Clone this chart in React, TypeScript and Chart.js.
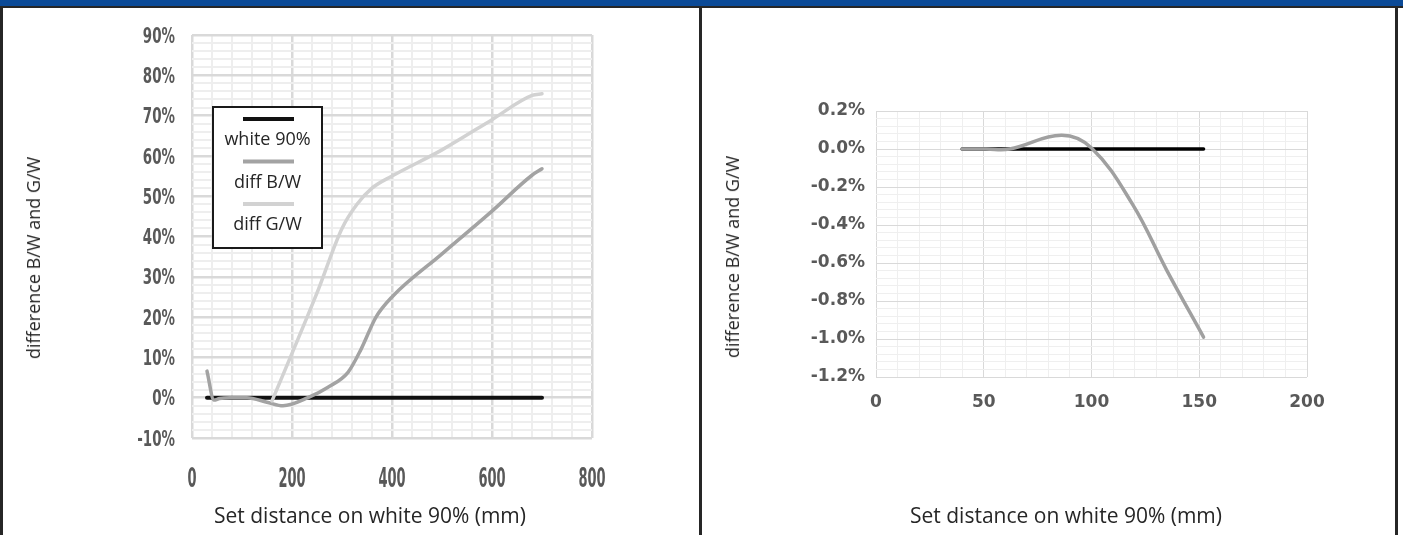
import React, { useEffect, useRef } from "react";
import { Chart, registerables } from "chart.js";

Chart.register(...registerables);

// ---------------- data ----------------
const seriesNames = ["white 90%", "diff B/W", "diff G/W"];
const xTitle = "Set distance on white 90% (mm)";
const yTitle = "difference B/W and G/W";

// left panel (values in %)
const leftWhiteX = [30, 700];
const leftWhiteY = [0, 0];
const leftBWX = [30, 44, 55, 75, 110, 152, 182, 232, 272, 312, 338, 368, 400, 500, 600, 680, 700];
const leftBWY = [6.6, -0.6, -0.2, 0, 0, -1.2, -2.0, 0, 2.6, 6.3, 12, 20, 25, 35.7, 46.3, 55.2, 56.8];
const leftGWX = [160, 200, 250, 300, 330, 360, 400, 500, 600, 680, 700];
const leftGWY = [-0.8, 11, 26, 42, 48, 52, 55, 61.5, 69, 75, 75.4];
const leftXTicks = [0, 200, 400, 600, 800];
const leftYTicks = [-10, 0, 10, 20, 30, 40, 50, 60, 70, 80, 90];

// right panel (values in %)
const rightWhiteX = [40, 152];
const rightWhiteY = [0, 0];
const rightBWX = [40, 51, 62, 86, 100, 119, 135, 152];
const rightBWY = [0, 0, 0, 0.072, 0.005, -0.29, -0.64, -0.99];
const rightXTicks = [0, 50, 100, 150, 200];
const rightYTicks = [-1.2, -1.0, -0.8, -0.6, -0.4, -0.2, 0.0, 0.2];

// ---------------- helpers ----------------
const FONT_TEXT = "'Open Sans', 'Noto Sans', sans-serif";
const FONT_TICK = "'DejaVu Sans', sans-serif";
const TICK_COLOR = "#595959";
const TEXT_COLOR = "#262626";

const pts = (xs: number[], ys: number[]) => xs.map((x, i) => ({ x, y: ys[i] }));
const isMajor = (v: number, majors: number[]) => majors.some((m) => Math.abs(m - v) < 1e-6);

// vertical legend: line sample above each label, inside a framed box
const stackedLegend = {
  id: "stackedLegend",
  afterDraw(chart: any, _args: any, opts: any) {
    if (!opts || !opts.display) return;
    const { ctx, chartArea } = chart;
    const bx = chartArea.left + opts.offsetX;
    const by = chartArea.top + opts.offsetY;
    ctx.save();
    ctx.fillStyle = "#ffffff";
    ctx.fillRect(bx, by, opts.width, opts.height);
    ctx.strokeStyle = "#1a1a1a";
    ctx.lineWidth = 2;
    ctx.strokeRect(bx, by, opts.width, opts.height);
    const cx = bx + opts.width / 2;
    chart.data.datasets.forEach((ds: any, i: number) => {
      const ly = by + opts.firstLine + i * opts.gap;
      ctx.strokeStyle = ds.borderColor;
      ctx.lineWidth = 4;
      ctx.lineCap = "butt";
      ctx.beginPath();
      ctx.moveTo(cx - opts.sample / 2 + 1, ly);
      ctx.lineTo(cx + opts.sample / 2 + 1, ly);
      ctx.stroke();
      ctx.fillStyle = TEXT_COLOR;
      ctx.font = `18px ${FONT_TEXT}`;
      ctx.textAlign = "center";
      ctx.textBaseline = "middle";
      ctx.fillText(ds.label, cx, ly + opts.textOffset);
    });
    ctx.restore();
  },
};

// draws the scale's own tick labels with a horizontally condensed face
const condensedTicks = {
  id: "condensedTicks",
  afterDraw(chart: any, _args: any, opts: any) {
    if (!opts || !opts.display) return;
    const { ctx, chartArea } = chart;
    const drawScale = (scale: any, cfg: any) => {
      ctx.save();
      ctx.fillStyle = TICK_COLOR;
      ctx.font = `bold ${cfg.size}px ${FONT_TICK}`;
      ctx.textBaseline = "alphabetic";
      scale.ticks.forEach((t: any) => {
        const label = t.label;
        if (!label) return;
        const p = scale.getPixelForValue(t.value);
        let x: number;
        let y: number;
        if (scale.isHorizontal()) {
          x = p;
          y = chartArea.bottom + cfg.offset;
          ctx.textAlign = "center";
        } else {
          x = chartArea.left - cfg.offset;
          y = p;
          ctx.textAlign = "right";
        }
        ctx.save();
        ctx.translate(x, y + cfg.size * 0.365);
        ctx.scale(cfg.stretch, 1);
        ctx.fillText(String(label), 0, 0);
        ctx.restore();
      });
      ctx.restore();
    };
    drawScale(chart.scales.x, opts.x);
    drawScale(chart.scales.y, opts.y);
  },
};

function gridOpts(majors: number[], majorColor: string, minorColor: string, majorW: number, minorW: number) {
  return {
    drawTicks: false,
    color: (c: any) => (c.tick && isMajor(c.tick.value, majors) ? majorColor : minorColor),
    lineWidth: (c: any) => (c.tick && isMajor(c.tick.value, majors) ? majorW : minorW),
  };
}

function LeftChart() {
  const ref = useRef<HTMLCanvasElement>(null);
  useEffect(() => {
    const chart = new Chart(ref.current as HTMLCanvasElement, {
      type: "line",
      data: {
        datasets: [
          { label: seriesNames[0], data: pts(leftWhiteX, leftWhiteY), borderColor: "#111111", borderWidth: 4, order: 3 },
          { label: seriesNames[1], data: pts(leftBWX, leftBWY), borderColor: "#a3a3a3", borderWidth: 3.5, order: 2 },
          { label: seriesNames[2], data: pts(leftGWX, leftGWY), borderColor: "#d2d2d2", borderWidth: 3.5, order: 1 },
        ],
      },
      options: {
        animation: false,
        responsive: false,
        devicePixelRatio: 1,
        layout: { padding: { left: 0, top: 27, right: 107, bottom: 0 } },
        elements: {
          point: { radius: 0 },
          line: { cubicInterpolationMode: "monotone", borderCapStyle: "round", borderJoinStyle: "round" },
        },
        plugins: {
          legend: { display: false },
          tooltip: { enabled: false },
          stackedLegend: {
            display: true, offsetX: 21, offsetY: 72, width: 109, height: 141,
            firstLine: 12, gap: 42.5, textOffset: 21, sample: 51,
          },
          condensedTicks: {
            display: true,
            x: { size: 26, stretch: 0.5, offset: 40 },
            y: { size: 21, stretch: 0.64, offset: 17 },
          },
        } as any,
        scales: {
          x: {
            type: "linear", min: 0, max: 800,
            afterFit: (s: any) => { s.height = 97; },
            border: { display: false },
            grid: gridOpts(leftXTicks, "#d9d9d9", "#eeeeee", 2.5, 2),
            ticks: {
              stepSize: 40, autoSkip: false, maxRotation: 0, padding: 28, color: "rgba(0,0,0,0)",
              font: { family: FONT_TICK, size: 14, weight: "bold" },
              callback: (v: any) => (isMajor(Number(v), leftXTicks) ? String(Math.round(Number(v))) : ""),
            },
          },
          y: {
            type: "linear", min: -10, max: 90,
            afterFit: (s: any) => { s.width = 189; },
            border: { display: false },
            grid: gridOpts(leftYTicks, "#d9d9d9", "#eeeeee", 2.5, 2),
            ticks: {
              stepSize: 2, autoSkip: false, padding: 17, color: "rgba(0,0,0,0)",
              font: { family: FONT_TICK, size: 14, weight: "bold" },
              callback: (v: any) => (isMajor(Number(v), leftYTicks) ? `${Math.round(Number(v))}%` : ""),
            },
          },
        },
      } as any,
      plugins: [stackedLegend as any, condensedTicks as any],
    });
    return () => chart.destroy();
  }, []);
  return <canvas ref={ref} width={696} height={527} style={{ display: "block" }} />;
}

function RightChart() {
  const ref = useRef<HTMLCanvasElement>(null);
  useEffect(() => {
    const chart = new Chart(ref.current as HTMLCanvasElement, {
      type: "line",
      data: {
        datasets: [
          { label: seriesNames[0], data: pts(rightWhiteX, rightWhiteY), borderColor: "#000000", borderWidth: 3.5, order: 2 },
          { label: seriesNames[1], data: pts(rightBWX, rightBWY), borderColor: "#a0a0a0", borderWidth: 3.5, order: 1 },
        ],
      },
      options: {
        animation: false,
        responsive: false,
        devicePixelRatio: 1,
        layout: { padding: { left: 0, top: 103, right: 88, bottom: 0 } },
        elements: {
          point: { radius: 0 },
          line: { tension: 0.4, borderCapStyle: "round", borderJoinStyle: "round" },
        },
        plugins: { legend: { display: false }, tooltip: { enabled: false } },
        scales: {
          x: {
            type: "linear", min: 0, max: 200,
            afterFit: (s: any) => { s.height = 158; },
            border: { display: false },
            grid: gridOpts(rightXTicks, "#d9d9d9", "#efefef", 1, 1),
            ticks: {
              stepSize: 10, autoSkip: false, maxRotation: 0, padding: 15, color: TICK_COLOR,
              font: { family: FONT_TICK, size: 17, weight: "bold" },
              callback: (v: any) => (isMajor(Number(v), rightXTicks) ? String(Math.round(Number(v))) : ""),
            },
          },
          y: {
            type: "linear", min: -1.2, max: 0.2,
            afterFit: (s: any) => { s.width = 174; },
            border: { display: false },
            grid: gridOpts(rightYTicks, "#d9d9d9", "#efefef", 1, 1),
            ticks: {
              stepSize: 0.04, autoSkip: false, padding: 11, color: TICK_COLOR,
              font: { family: FONT_TICK, size: 17, weight: "bold" },
              callback: (v: any) => {
                const n = Number(v);
                if (!isMajor(n, rightYTicks)) return "";
                const r = Math.round(n * 10) / 10;
                return `${(r === 0 ? 0 : r).toFixed(1)}%`;
              },
            },
          },
        },
      } as any,
    });
    return () => chart.destroy();
  }, []);
  return <canvas ref={ref} width={693} height={527} style={{ display: "block" }} />;
}

const abs = (l: number, t: number, w: number, h: number, bg: string): React.CSSProperties => ({
  position: "absolute", left: l, top: t, width: w, height: h, background: bg,
});

function Title({ x, y, text, size, rotate }: { x: number; y: number; text: string; size: number; rotate?: boolean }) {
  return (
    <div
      style={{
        position: "absolute", left: x, top: y, whiteSpace: "nowrap", lineHeight: 1,
        fontFamily: FONT_TEXT, fontSize: size, color: TEXT_COLOR,
        transform: `translate(-50%, -50%)${rotate ? " rotate(-90deg)" : ""}`,
      }}
    >
      {text}
    </div>
  );
}

export default function App() {
  useEffect(() => {
    document.body.style.margin = "0";
  }, []);
  return (
    <div style={{ position: "fixed", left: 0, top: 0, width: 1403, height: 535, background: "#ffffff", overflow: "hidden" }}>
      <div style={abs(0, 0, 1403, 6, "#0b4a97")} />
      <div style={abs(0, 6, 1403, 2, "#262626")} />
      <div style={abs(0, 8, 3, 527, "#262626")} />
      <div style={abs(699, 8, 3, 527, "#262626")} />
      <div style={abs(1395, 8, 3, 527, "#262626")} />
      <div style={{ position: "absolute", left: 3, top: 8 }}>
        <LeftChart />
      </div>
      <div style={{ position: "absolute", left: 702, top: 8 }}>
        <RightChart />
      </div>
      <Title x={33} y={258} text={yTitle} size={18} rotate />
      <Title x={370} y={515} text={xTitle} size={21} />
      <Title x={732} y={257} text={yTitle} size={18} rotate />
      <Title x={1066} y={515} text={xTitle} size={21} />
    </div>
  );
}
